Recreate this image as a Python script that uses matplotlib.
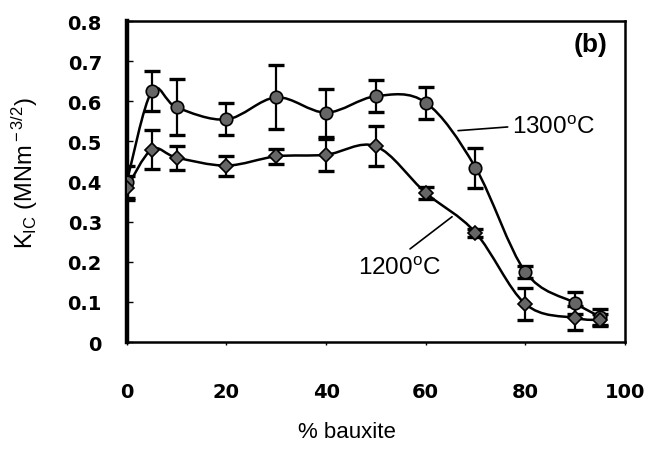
import numpy as np
import matplotlib
matplotlib.use("Agg")
import matplotlib.pyplot as plt
from matplotlib.path import Path
from matplotlib.patches import PathPatch

plt.rcParams['font.family'] = ['Liberation Sans', 'DejaVu Sans']
plt.rcParams['mathtext.fontset'] = 'custom'
plt.rcParams['mathtext.rm'] = 'Liberation Sans'
plt.rcParams['mathtext.it'] = 'Liberation Sans:italic'

# % bauxite
bauxite = [0, 5, 10, 20, 30, 40, 50, 60, 70, 80, 90, 95]

# K_IC values
k_1300 = [0.40, 0.625, 0.585, 0.555, 0.61, 0.572, 0.613, 0.597, 0.435, 0.175, 0.097, 0.063]
err_1300 = [0.04, 0.05, 0.07, 0.04, 0.08, 0.06, 0.04, 0.04, 0.05, 0.015, 0.027, 0.02]
k_1200 = [0.385, 0.48, 0.46, 0.44, 0.463, 0.467, 0.488, 0.372, 0.273, 0.095, 0.06, 0.055]
err_1200 = [0.03, 0.048, 0.03, 0.025, 0.018, 0.04, 0.05, 0.015, 0.01, 0.04, 0.03, 0.015]

x_ticks = [0, 20, 40, 60, 80, 100]
y_ticks = [0, 0.1, 0.2, 0.3, 0.4, 0.5, 0.6, 0.7, 0.8]
y_tick_labels = ["0", "0.1", "0.2", "0.3", "0.4", "0.5", "0.6", "0.7", "0.8"]


def smooth_path(xs, ys):
    # spline through the points, like a "smoothed line" chart
    pts = np.column_stack([xs, ys]).astype(float)
    n = len(pts)
    verts = [pts[0]]
    codes = [Path.MOVETO]
    for i in range(n - 1):
        p0 = pts[max(i - 1, 0)]
        p1 = pts[i]
        p2 = pts[i + 1]
        p3 = pts[min(i + 2, n - 1)]
        verts += [p1 + (p2 - p0) / 6, p2 - (p3 - p1) / 6, p2]
        codes += [Path.CURVE4] * 3
    return Path(verts, codes)


def draw_series(ax, xs, ys, errs, marker, ms):
    ax.add_patch(PathPatch(smooth_path(xs, ys), fill=False, lw=1.8, ec="black", zorder=2))
    ax.errorbar(xs, ys, yerr=errs, fmt="none", ecolor="black", elinewidth=1.6,
                capsize=6, capthick=2.4, zorder=3)
    ax.plot(xs, ys, linestyle="none", marker=marker, ms=ms, mfc="#666666",
            mec="black", mew=1.2, zorder=4)


fig = plt.figure(figsize=(6.54, 4.52), dpi=100)
ax = fig.add_axes([0.194, 0.241, 0.7615, 0.710])

draw_series(ax, bauxite, k_1300, err_1300, "o", 9)
draw_series(ax, bauxite, k_1200, err_1200, "D", 7.5)

ax.set_xlim(0, 100)
ax.set_ylim(0, 0.8)
ax.set_xticks(x_ticks)
ax.set_xticklabels([str(v) for v in x_ticks])
ax.set_yticks(y_ticks)
ax.set_yticklabels(y_tick_labels)
for lab in ax.get_xticklabels() + ax.get_yticklabels():
    lab.set_fontfamily("DejaVu Sans")
    lab.set_fontweight("bold")
    lab.set_fontsize(14)
ax.tick_params(axis="y", direction="in", length=4, width=1, pad=18)
ax.tick_params(axis="x", direction="out", length=2, width=1, pad=27)

ax.spines["left"].set_linewidth(3.2)
for s in ["top", "right", "bottom"]:
    ax.spines[s].set_linewidth(1.8)

ax.set_ylabel(r"K$_{\rm IC}$ (MNm$^{\rm -3/2}$)", fontsize=17)
ax.yaxis.set_label_coords(-0.175, 0.53)
ax.set_xlabel("% bauxite", fontsize=16)
ax.xaxis.set_label_coords(0.442, -0.245)

ax.text(0.966, 0.93, "(b)", transform=ax.transAxes, ha="right", va="center",
        fontsize=19, fontweight="bold")

ax.annotate(r"1300$^{\rm o}$C", xy=(66.5, 0.527), xytext=(77.3, 0.537),
            ha="left", va="center", fontsize=17.5,
            arrowprops=dict(arrowstyle="-", lw=1.2, color="black",
                            relpos=(0, 0.5), shrinkA=1, shrinkB=0))
ax.annotate(r"1200$^{\rm o}$C", xy=(65.3, 0.3125), xytext=(54.8, 0.185),
            ha="center", va="center", fontsize=17.5,
            arrowprops=dict(arrowstyle="-", lw=1.2, color="black",
                            relpos=(0.5, 1), shrinkA=6, shrinkB=0))

fig.savefig("out.png", dpi=100, facecolor="white")
